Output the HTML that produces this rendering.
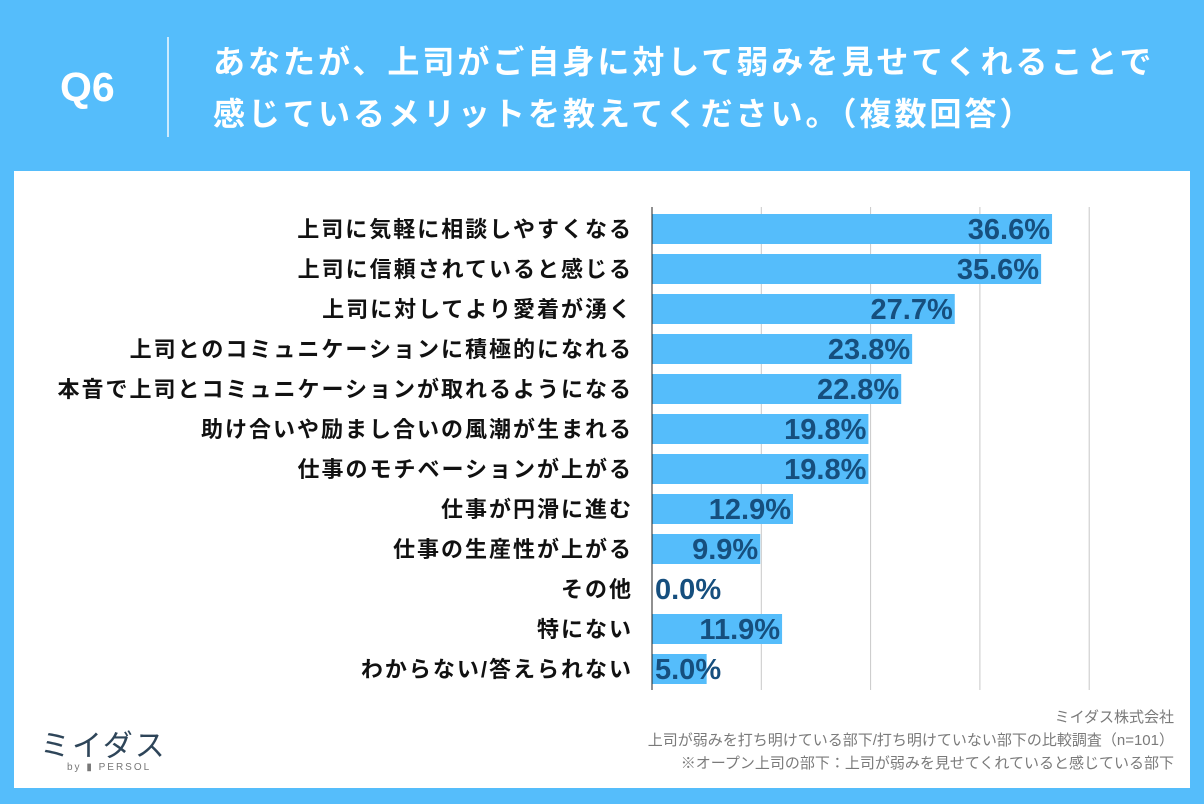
<!DOCTYPE html>
<html><head><meta charset="utf-8"><style>
html,body{margin:0;padding:0;}
body{width:1204px;height:804px;background:#55bdfb;position:relative;overflow:hidden;font-family:"Liberation Sans","Noto Sans CJK JP",sans-serif;}
.q{position:absolute;left:60px;top:64px;color:#fff;font-weight:bold;font-size:41px;}
.div{position:absolute;left:167px;top:37px;width:2px;height:100px;background:rgba(255,255,255,.7);}
.title{position:absolute;left:213px;top:36px;color:#fff;font-weight:bold;font-size:32px;line-height:52px;letter-spacing:3px;white-space:nowrap;}
.panel{position:absolute;left:14px;top:171px;width:1176px;height:617px;background:#fff;}
</style></head><body>
<div class="q">Q6</div>
<div class="div"></div>
<div class="title">あなたが、上司がご自身に対して弱みを見せてくれることで<br>感じているメリットを教えてください。（複数回答）</div>
<div class="panel"></div>
<svg id="chart" width="1204" height="804" style="position:absolute;left:0;top:0"></svg>
<script>
const categories=["上司に気軽に相談しやすくなる","上司に信頼されていると感じる","上司に対してより愛着が湧く","上司とのコミュニケーションに積極的になれる","本音で上司とコミュニケーションが取れるようになる","助け合いや励まし合いの風潮が生まれる","仕事のモチベーションが上がる","仕事が円滑に進む","仕事の生産性が上がる","その他","特にない","わからない/答えられない"];
const values=[36.6,35.6,27.7,23.8,22.8,19.8,19.8,12.9,9.9,0.0,11.9,5.0];
const ticks=[0,10,20,30,40];
const NS="http://www.w3.org/2000/svg";
const svg=document.getElementById('chart');
const x0=652,pxPer=10.93,rowTop=214,pitch=40,barH=30,gridTop=207,gridBot=690;
const xs=v=>x0+v*pxPer;
function mk(t,a){const e=document.createElementNS(NS,t);for(const k in a)e.setAttribute(k,a[k]);svg.appendChild(e);return e;}
ticks.forEach((t,i)=>{if(t===0)return;const l=mk('line',{x1:xs(t),x2:xs(t),y1:gridTop,y2:gridBot,stroke:'#c8c8c8','stroke-width':1});

});
categories.forEach((c,i)=>{
 const y=rowTop+i*pitch;
 const r=mk('rect',{x:x0,y:y,width:Math.max(0,xs(values[i])-x0),height:barH,fill:'#55bdfb'});
 
 
 const lt=mk('text',{x:633,y:y+barH/2+8,'text-anchor':'end','font-size':22,'letter-spacing':2,'font-weight':'bold',fill:'#111'});
 lt.textContent=c;
 
 
 const w=xs(values[i])-x0;
 const vt=mk('text',{'font-size':29,'font-weight':'bold',fill:'#164f7e',y:y+barH/2+10});
 if(w>70){vt.setAttribute('x',xs(values[i])-2);vt.setAttribute('text-anchor','end');}
 else{vt.setAttribute('x',x0+3);vt.setAttribute('text-anchor','start');}
 vt.textContent=values[i].toFixed(1)+'%';
 
 
});
const ax=mk('line',{x1:x0,x2:x0,y1:gridTop,y2:gridBot,stroke:'#222','stroke-width':1});


</script>
<svg width="1204" height="804" style="position:absolute;left:0;top:0">
<g>
<text x="40" y="756" font-size="30" fill="#2e4559" font-family="Liberation Sans,Noto Sans CJK JP,sans-serif" letter-spacing="2">ミイダス</text>
<text x="67" y="770" font-size="10" fill="#777" font-family="Liberation Sans,sans-serif" letter-spacing="2">by ▮ PERSOL</text>
</g>
<g font-size="15" fill="#7a7a7a" text-anchor="end" font-family="Liberation Sans,Noto Sans CJK JP,sans-serif">
<text x="1174" y="722">ミイダス株式会社</text>
<text x="1174" y="745">上司が弱みを打ち明けている部下/打ち明けていない部下の比較調査（n=101）</text>
<text x="1174" y="768">※オープン上司の部下：上司が弱みを見せてくれていると感じている部下</text>
</g>
</svg>
</body></html>
